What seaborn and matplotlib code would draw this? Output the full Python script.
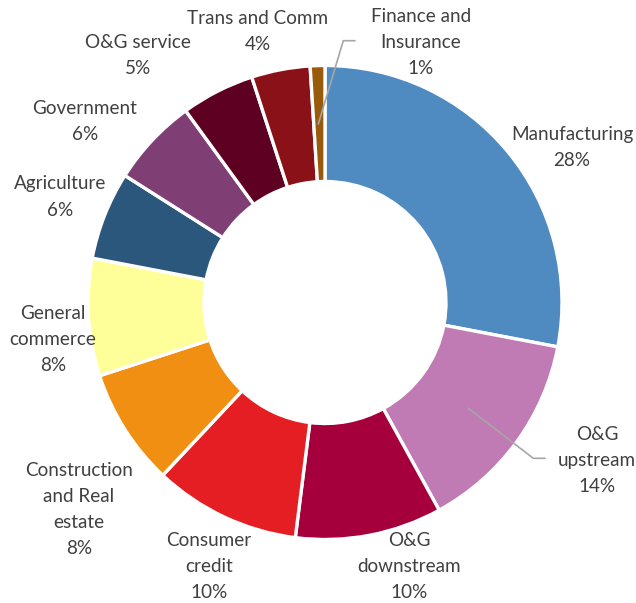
import matplotlib
matplotlib.use("Agg")
import matplotlib.pyplot as plt
import seaborn as sns

# Loan book by sector (share of total, %)
sectors = [
    "Manufacturing", "O&G upstream", "O&G downstream", "Consumer credit",
    "Construction and Real estate", "General commerce", "Agriculture",
    "Government", "O&G service", "Trans and Comm", "Finance and Insurance",
]
shares = [28, 14, 10, 10, 8, 8, 6, 6, 5, 4, 1]
label_lines = [
    ["Manufacturing"], ["O&G", "upstream"], ["O&G", "downstream"],
    ["Consumer", "credit"], ["Construction", "and Real", "estate"],
    ["General", "commerce"], ["Agriculture"], ["Government"],
    ["O&G service"], ["Trans and Comm"], ["Finance and", "Insurance"],
]
colors = [
    "#4F8BC1", "#C07BB4", "#A5003B", "#E41E23", "#F08F12", "#FFFF99",
    "#2C577C", "#7F3F75", "#5E0021", "#8B1118", "#985A0B",
]

# label anchor (centre x, top line y) in pixel space
label_pos = [
    (572, 134.6), (597, 434.6), (409, 540), (209, 540), (79, 470),
    (53, 313.5), (60, 184), (85, 108), (138, 42), (257.5, 18.5), (421, 16),
]

sns.set_theme(style="white")
plt.rcParams["font.family"] = ["Lato", "DejaVu Sans"]

W, H = 636, 603
fig = plt.figure(figsize=(W / 100, H / 100), dpi=100)
ax = fig.add_axes([0, 0, 1, 1])

cx, cy, r_out, r_in = 325, H - 302.5, 237, 121
ax.pie(
    shares, colors=colors, startangle=90, counterclock=False,
    center=(cx, cy), radius=r_out,
    wedgeprops=dict(width=r_out - r_in, edgecolor="white", linewidth=2.4),
)
ax.set_xlim(0, W)
ax.set_ylim(0, H)
ax.set_aspect("equal")
ax.axis("off")

text_color = "#404040"
line_gap = 26
for lines, share, (lx, ly) in zip(label_lines, shares, label_pos):
    for i, t in enumerate(lines + [f"{share}%"]):
        ax.text(lx, H - (ly + i * line_gap), t, ha="center", va="center",
                fontsize=13.6, color=text_color)

# leader lines for the labels placed away from their slices
lead = "#A6A6A6"
ax.plot([318.3, 343.3, 355], [H - 124, H - 40.7, H - 40.7], color=lead, lw=1.2)
ax.plot([468.3, 533.3, 545], [H - 408.3, H - 458.3, H - 458.3], color=lead, lw=1.2)

fig.savefig("out.png", dpi=100, facecolor="white")
